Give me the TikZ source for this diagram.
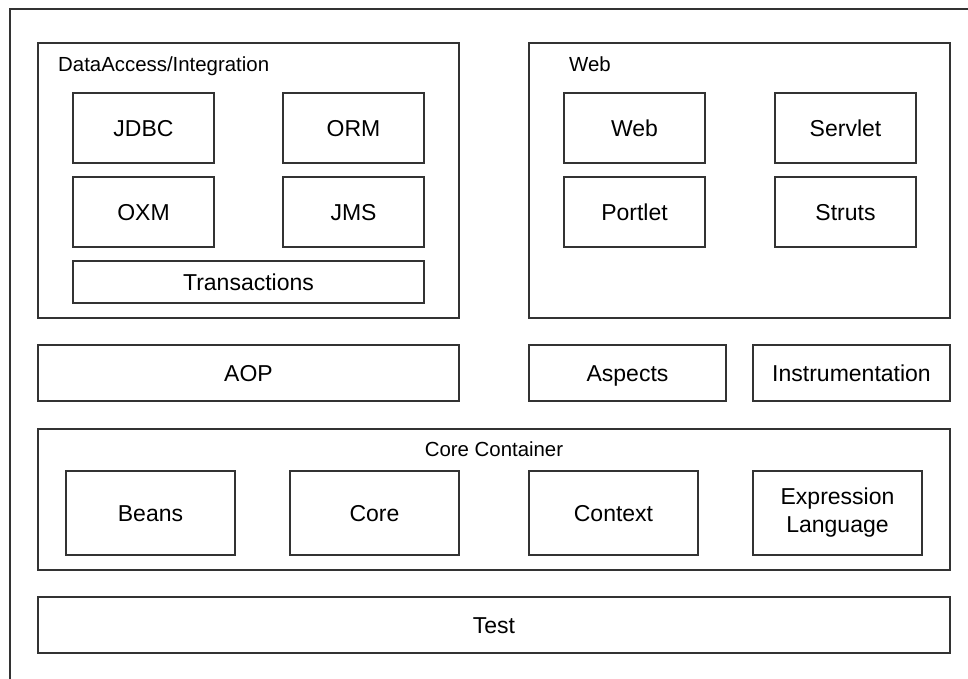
\documentclass[tikz,border=0pt]{standalone}
\usepackage{fontspec}
\setmainfont{Liberation Sans}
\begin{document}
\begin{tikzpicture}[x=1pt, y=-1pt,
  frame/.style={draw=black!80, line width=1.6pt, inner sep=0pt, outer sep=0pt},
  module/.style={frame, font=\fontsize{23}{28}\selectfont, align=center,
    text height=16.5pt, text depth=0pt},
  group/.style={frame},
  grouplabel/.style={font=\fontsize{20.4}{24}\selectfont, inner sep=0pt,
    text height=14.6pt, text depth=0pt}]
\useasboundingbox (0,0) rectangle (968,678);

% Outer frame (runs past the right and bottom edges)
\begin{scope}
\clip (0,0) rectangle (968,678);
\draw[draw=black!80, line width=1.6pt] (10,9) rectangle (990,700);
\end{scope}

% DataAccess/Integration
\node[group, minimum width=421, minimum height=275] (DA) at (248.5, 180.5) {};
\node[grouplabel, anchor=west] (DAlabel) at (58, 64) {DataAccess/Integration};
\node[module, minimum width=141, minimum height=70] (JDBC) at (143.5, 128) {JDBC};
\node[module, minimum width=141, minimum height=70] (ORM) at (353.5, 128) {ORM};
\node[module, minimum width=141, minimum height=70] (OXM) at (143.5, 212) {OXM};
\node[module, minimum width=141, minimum height=70] (JMS) at (353.5, 212) {JMS};
\node[module, minimum width=351, minimum height=42] (TX) at (248.5, 282) {Transactions};

% Web
\node[group, minimum width=421, minimum height=275] (WEB) at (739.5, 180.5) {};
\node[grouplabel, anchor=west] (WEBlabel) at (569, 64) {Web};
\node[module, minimum width=141, minimum height=70] (W1) at (634.5, 128) {Web};
\node[module, minimum width=141, minimum height=70] (W2) at (845.5, 128) {Servlet};
\node[module, minimum width=141, minimum height=70] (W3) at (634.5, 212) {Portlet};
\node[module, minimum width=141, minimum height=70] (W4) at (845.5, 212) {Struts};

% Middle row
\node[module, minimum width=421, minimum height=56] (AOP) at (248.5, 373) {AOP};
\node[module, minimum width=197, minimum height=56] (ASP) at (627.5, 373) {Aspects};
\node[module, minimum width=197, minimum height=56] (INS) at (851.5, 373) {Instrumentation};

% Core Container
\node[group, minimum width=912, minimum height=141] (CC) at (494, 499.5) {};
\node[grouplabel] (CClabel) at (494, 449) {Core Container};
\node[module, minimum width=169, minimum height=84] (C1) at (150.5, 513) {Beans};
\node[module, minimum width=169, minimum height=84] (C2) at (374.5, 513) {Core};
\node[module, minimum width=169, minimum height=84] (C3) at (613.5, 513) {Context};
\node[module, minimum width=169, minimum height=84, text height={}, text depth={}] (C4) at (837.5, 513) {Expression\\Language};

% Test
\node[module, minimum width=912, minimum height=56] (TEST) at (494, 625) {Test};

\end{tikzpicture}
\end{document}
